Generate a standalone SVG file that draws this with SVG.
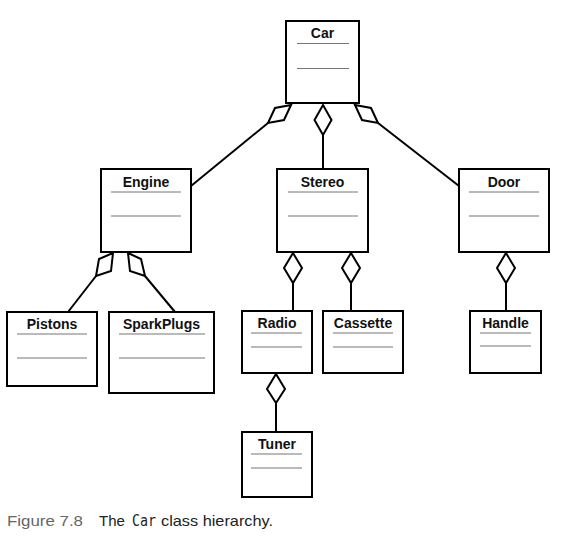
<svg xmlns="http://www.w3.org/2000/svg" width="562" height="536" viewBox="0 0 562 536">
<style>
.box{fill:#fff;stroke:#000;stroke-width:2}
.sep{stroke:#777;stroke-width:1.2}
.t{font-family:"Liberation Sans",Arial,sans-serif;font-weight:bold;font-size:14px;text-anchor:middle;fill:#111}
.c{stroke:#000;stroke-width:2;fill:none}
.d{stroke:#000;stroke-width:2;fill:#fff;stroke-linejoin:miter}
.cap{font-family:"Liberation Sans",Arial,sans-serif;font-size:15px}
</style>
<rect width="562" height="536" fill="#fff"/>
<g id="connectors">
<line class="c" x1="323" y1="135" x2="323" y2="169"/>
<line class="c" x1="268" y1="123" x2="191" y2="186"/>
<line class="c" x1="378" y1="123" x2="459" y2="186"/>
<line class="c" x1="96" y1="276" x2="68" y2="312"/>
<line class="c" x1="145" y1="276" x2="175" y2="312"/>
<line class="c" x1="293" y1="283" x2="293" y2="311"/>
<line class="c" x1="351" y1="283" x2="351" y2="311"/>
<line class="c" x1="506" y1="283" x2="506" y2="311"/>
<line class="c" x1="276" y1="403" x2="276" y2="432"/>
<path class="d" d="M323,105 L331.5,120 L323,135 L314.5,120 Z"/>
<path class="d" d="M291,105 L275,108 L268,123 L284,120 Z"/>
<path class="d" d="M355,105 L371,108 L378,123 L362,120 Z"/>
<path class="d" d="M113,253 L99,259 L96,276 L111,271 Z"/>
<path class="d" d="M128,253 L141,259 L145,276 L130,271 Z"/>
<path class="d" d="M293,253 L302,268 L293,283 L284,268 Z"/>
<path class="d" d="M351,253 L360,268 L351,283 L342,268 Z"/>
<path class="d" d="M506,253 L515,268 L506,283 L497,268 Z"/>
<path class="d" d="M276,374 L285,389 L276,403 L267,389 Z"/>
</g>
<g id="Car">
<rect class="box" x="286" y="21" width="73" height="82"/>
<text class="t" x="322.5" y="38">Car</text>
<line class="sep" x1="297" y1="43.5" x2="349" y2="43.5"/>
<line class="sep" x1="297" y1="68.5" x2="349" y2="68.5"/>
</g>
<g id="Engine">
<rect class="box" x="101" y="169" width="90" height="83"/>
<text class="t" x="146" y="187">Engine</text>
<line class="sep" x1="111" y1="192" x2="181" y2="192"/>
<line class="sep" x1="111" y1="216" x2="181" y2="216"/>
</g>
<g id="Stereo">
<rect class="box" x="277" y="169" width="91" height="83"/>
<text class="t" x="322.5" y="187">Stereo</text>
<line class="sep" x1="288" y1="192" x2="358" y2="192"/>
<line class="sep" x1="288" y1="216" x2="358" y2="216"/>
</g>
<g id="Door">
<rect class="box" x="459" y="169" width="90" height="83"/>
<text class="t" x="504" y="187">Door</text>
<line class="sep" x1="469" y1="192" x2="539" y2="192"/>
<line class="sep" x1="469" y1="216" x2="539" y2="216"/>
</g>
<g id="Pistons">
<rect class="box" x="7" y="312" width="90" height="74"/>
<text class="t" x="52" y="329">Pistons</text>
<line class="sep" x1="17" y1="334" x2="87" y2="334"/>
<line class="sep" x1="17" y1="358" x2="87" y2="358"/>
</g>
<g id="SparkPlugs">
<rect class="box" x="109" y="312" width="105" height="81"/>
<text class="t" x="161.5" y="329">SparkPlugs</text>
<line class="sep" x1="119" y1="334" x2="205" y2="334"/>
<line class="sep" x1="119" y1="358" x2="205" y2="358"/>
</g>
<g id="Radio">
<rect class="box" x="242" y="311" width="70" height="62"/>
<text class="t" x="277" y="328">Radio</text>
<line class="sep" x1="251" y1="333" x2="302" y2="333"/>
<line class="sep" x1="251" y1="347" x2="302" y2="347"/>
</g>
<g id="Cassette">
<rect class="box" x="323" y="311" width="80" height="62"/>
<text class="t" x="363" y="328">Cassette</text>
<line class="sep" x1="333" y1="333" x2="393" y2="333"/>
<line class="sep" x1="333" y1="347" x2="393" y2="347"/>
</g>
<g id="Handle">
<rect class="box" x="470" y="311" width="71" height="62"/>
<text class="t" x="505.5" y="328">Handle</text>
<line class="sep" x1="480" y1="333" x2="531" y2="333"/>
<line class="sep" x1="480" y1="346" x2="531" y2="346"/>
</g>
<g id="Tuner">
<rect class="box" x="242" y="432" width="70" height="65"/>
<text class="t" x="277" y="449">Tuner</text>
<line class="sep" x1="251" y1="454" x2="302" y2="454"/>
<line class="sep" x1="251" y1="468" x2="302" y2="468"/>
</g>
<g id="caption">
<text class="cap" x="7" y="526" fill="#666" textLength="76" lengthAdjust="spacingAndGlyphs">Figure 7.8</text>
<text class="cap" x="99" y="526" fill="#222">The</text>
<text x="132" y="526" fill="#222" style="font-family:'DejaVu Sans Mono','Liberation Mono',monospace;font-size:15px" textLength="24" lengthAdjust="spacingAndGlyphs">Car</text>
<text class="cap" x="161" y="526" fill="#222" textLength="112" lengthAdjust="spacingAndGlyphs">class hierarchy.</text>
</g>
</svg>
